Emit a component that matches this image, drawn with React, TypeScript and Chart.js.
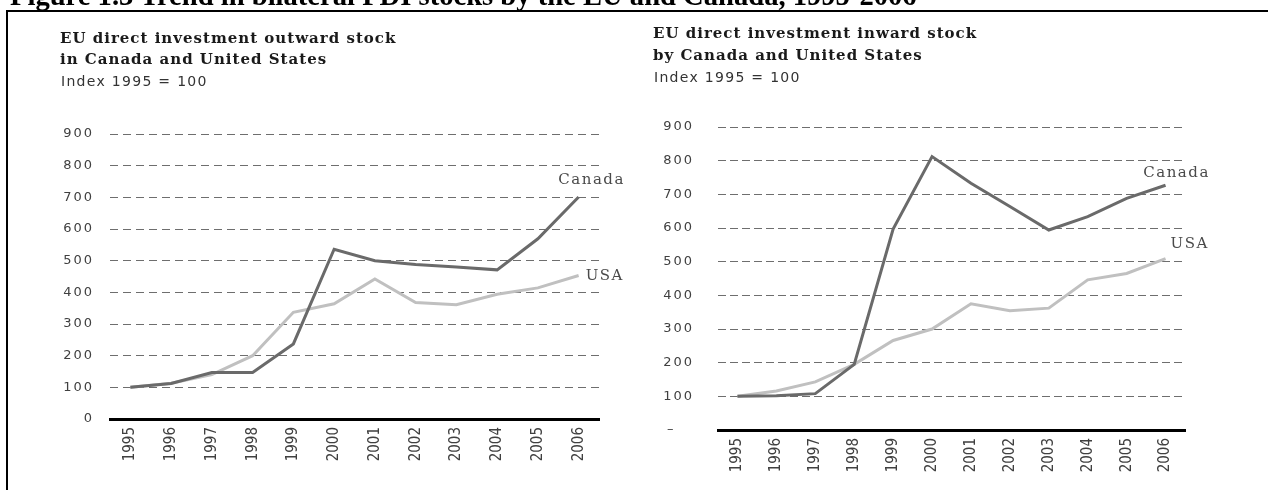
import React, { useEffect, useRef } from "react";
import { Chart, registerables } from "chart.js";

Chart.register(...registerables);

// ---------- data ----------
const years = ["1995", "1996", "1997", "1998", "1999", "2000", "2001", "2002", "2003", "2004", "2005", "2006"];
const outwardCanada = [100, 112, 147, 147, 237, 536, 500, 488, 480, 471, 569, 701];
const outwardUSA = [100, 113, 140, 200, 337, 364, 442, 368, 361, 394, 414, 453];
const inwardCanada = [100, 102, 108, 195, 597, 812, 733, 664, 594, 634, 688, 727];
const inwardUSA = [100, 116, 143, 195, 266, 300, 375, 354, 362, 446, 465, 509];
const yMin = 0;
const yMax = 900;
const yStep = 100;
const seriesNames = ["Canada", "USA"];
const figureTitle = "Figure 1.3 Trend in bilateral FDI stocks by the EU and Canada, 1995-2006";
const leftTitle = ["EU direct investment outward stock", "in Canada and United States"];
const rightTitle = ["EU direct investment inward stock", "by Canada and United States"];
const unitNote = "Index 1995 = 100";

// wrap a scale's label drawing so it uses its own letter spacing
function withSpacing(s: any, spacing: string) {
  if (s.__spacingWrapped) return;
  const orig = s.drawLabels.bind(s);
  s.drawLabels = (area: any) => {
    const c = s.ctx;
    const prev = c.letterSpacing;
    c.letterSpacing = spacing;
    orig(area);
    c.letterSpacing = prev || "0px";
  };
  s.__spacingWrapped = true;
}

const seriesLabelPlugin = {
  id: "seriesLabels",
  afterDatasetsDraw(chart: any, _args: any, opts: any) {
    const items = (opts && opts.items) || [];
    const ctx = chart.ctx;
    ctx.save();
    ctx.letterSpacing = "1.5px";
    ctx.font = "15px 'DejaVu Serif'";
    ctx.fillStyle = "#4a4a4a";
    ctx.textBaseline = "middle";
    items.forEach((it: any) => {
      const meta = chart.getDatasetMeta(it.dataset);
      const pt = meta.data[meta.data.length - 1];
      if (!pt) return;
      ctx.textAlign = it.align;
      ctx.fillText(chart.data.datasets[it.dataset].label, pt.x + it.dx, pt.y + it.dy);
    });
    ctx.restore();
  },
};

type Props = {
  left: number;
  width: number;
  canada: number[];
  usa: number[];
  padding: { left: number; right: number; top: number; bottom: number };
  yAxisWidth: number;
  xAxisHeight: number;
  yTickPadding: number;
  zeroLabel: string;
  labelItems: any[];
  dash: number[];
};

function FdiChart(p: Props) {
  const ref = useRef<HTMLCanvasElement>(null);
  useEffect(() => {
    const chart = new Chart(ref.current as HTMLCanvasElement, {
      type: "line",
      data: {
        labels: years,
        datasets: [
          {
            label: seriesNames[0],
            data: p.canada,
            borderColor: "#6a6a6a",
            borderWidth: 3,
            pointRadius: 0,
            tension: 0,
            fill: false,
          },
          {
            label: seriesNames[1],
            data: p.usa,
            borderColor: "#c0c0c0",
            borderWidth: 3,
            pointRadius: 0,
            tension: 0,
            fill: false,
          },
        ],
      },
      options: {
        animation: false,
        responsive: false,
        devicePixelRatio: 1,
        layout: { padding: p.padding },
        plugins: {
          legend: { display: false },
          tooltip: { enabled: false },
          title: { display: false },
          seriesLabels: { items: p.labelItems },
        } as any,
        scales: {
          x: {
            type: "category",
            offset: true,
            grid: { display: false, drawTicks: false },
            border: { display: true, color: "#000000", width: 3 },
            ticks: {
              autoSkip: false,
              maxRotation: 90,
              minRotation: 90,
              padding: 8,
              color: "#404040",
              font: { family: "'DejaVu Sans Condensed', 'DejaVu Sans'", size: 15 },
            },
            afterFit: (s: any) => {
              s.height = p.xAxisHeight;
              withSpacing(s, "0px");
            },
          },
          y: {
            min: yMin,
            max: yMax,
            grid: { color: "#6e6e6e", lineWidth: 1, drawTicks: false },
            border: { display: false, dash: p.dash },
            ticks: {
              stepSize: yStep,
              padding: p.yTickPadding,
              color: "#404040",
              font: { family: "'DejaVu Sans'", size: 13 },
              callback: (v: any) => (Number(v) === 0 ? p.zeroLabel : String(v)),
            },
            afterFit: (s: any) => {
              s.width = p.yAxisWidth;
              withSpacing(s, "2px");
            },
          },
        },
      } as any,
      plugins: [seriesLabelPlugin],
    });
    return () => chart.destroy();
  }, []);
  return (
    <canvas
      ref={ref}
      width={p.width}
      height={490}
      style={{ position: "absolute", left: p.left, top: 0, width: p.width, height: 490 }}
    />
  );
}

const titleStyle: React.CSSProperties = {
  position: "absolute",
  font: "bold 15px 'DejaVu Serif'",
  letterSpacing: "1px",
  lineHeight: "18px",
  color: "#1a1a1a",
  whiteSpace: "nowrap",
};
const noteStyle: React.CSSProperties = {
  position: "absolute",
  font: "14px 'DejaVu Sans'",
  letterSpacing: "1.3px",
  lineHeight: "18px",
  color: "#333",
  whiteSpace: "nowrap",
};

export default function App() {
  return (
    <div
      style={{
        position: "absolute",
        left: 0,
        top: 0,
        width: 1268,
        height: 490,
        overflow: "hidden",
        background: "#ffffff",
      }}
    >
      <FdiChart
        left={0}
        width={630}
        canada={outwardCanada}
        usa={outwardUSA}
        padding={{ left: 40, right: 31, top: 134, bottom: 11 }}
        yAxisWidth={70}
        xAxisHeight={60}
        yTickPadding={16}
        zeroLabel="0"
        dash={[8, 5]}
        labelItems={[
          { dataset: 0, dx: 13, dy: -17, align: "center" },
          { dataset: 1, dx: 7, dy: 1, align: "left" },
        ]}
      />
      <FdiChart
        left={630}
        width={638}
        canada={inwardCanada}
        usa={inwardUSA}
        padding={{ left: 20, right: 83, top: 127, bottom: 10 }}
        yAxisWidth={68}
        xAxisHeight={50}
        yTickPadding={24}
        zeroLabel={"\u2013   "}
        dash={[8, 4]}
        labelItems={[
          { dataset: 0, dx: 11, dy: -12, align: "center" },
          { dataset: 1, dx: 5, dy: -15, align: "left" },
        ]}
      />
      <div
        style={{
          position: "absolute",
          left: 10,
          top: -19,
          font: "bold 28.6px 'Liberation Serif'",
          lineHeight: "29px",
          whiteSpace: "nowrap",
          color: "#000",
        }}
      >
        {figureTitle}
      </div>
      <div style={{ position: "absolute", left: 6, top: 10, width: 1262, height: 2, background: "#000" }} />
      <div style={{ position: "absolute", left: 6, top: 10, width: 2, height: 480, background: "#000" }} />

      <div style={{ ...titleStyle, left: 60, top: 29 }}>{leftTitle[0]}</div>
      <div style={{ ...titleStyle, left: 60, top: 50 }}>{leftTitle[1]}</div>
      <div style={{ ...noteStyle, left: 61, top: 72 }}>{unitNote}</div>

      <div style={{ ...titleStyle, left: 653, top: 24 }}>{rightTitle[0]}</div>
      <div style={{ ...titleStyle, left: 653, top: 46 }}>{rightTitle[1]}</div>
      <div style={{ ...noteStyle, left: 654, top: 68 }}>{unitNote}</div>
    </div>
  );
}
